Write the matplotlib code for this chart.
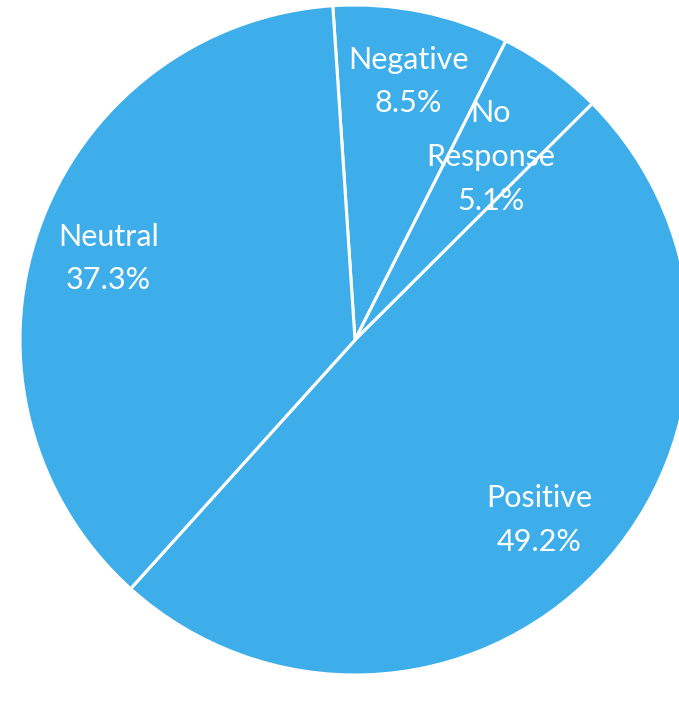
import matplotlib.pyplot as plt
import numpy as np

labels = ['Negative', 'No\nResponse', 'Positive', 'Neutral']
shares = [8.5, 5.1, 49.2, 37.3]
pct_text = ['8.5%', '5.1%', '49.2%', '37.3%']

plt.rcParams['font.family'] = ['Lato', 'DejaVu Sans']

fig = plt.figure(figsize=(6.79, 7.01), dpi=100)
ax = fig.add_axes([0, 0, 1, 1])
ax.axis('off')

wedges, _ = ax.pie(shares, startangle=93.8, counterclock=False,
                   colors=['#3daeea'] * 4, radius=1,
                   wedgeprops=dict(edgecolor='white', linewidth=2.2))

# label radius for each slice (as in the original layout)
label_r = [0.80, 0.69, 0.76, 0.78]
for w, lab, p, r in zip(wedges, labels, pct_text, label_r):
    mid = np.deg2rad((w.theta1 + w.theta2) / 2)
    ax.annotate(lab + '\n' + p, (r * np.cos(mid), r * np.sin(mid)),
                xytext=(0, -3), textcoords='offset points',
                ha='center', va='center', color='white', fontsize=22,
                linespacing=1.68)

ax.set_xlim(-355 / 335, 324 / 335)
ax.set_ylim(-361 / 335, 340 / 335)
ax.set_aspect('auto')

fig.savefig('out.png', dpi=100)
